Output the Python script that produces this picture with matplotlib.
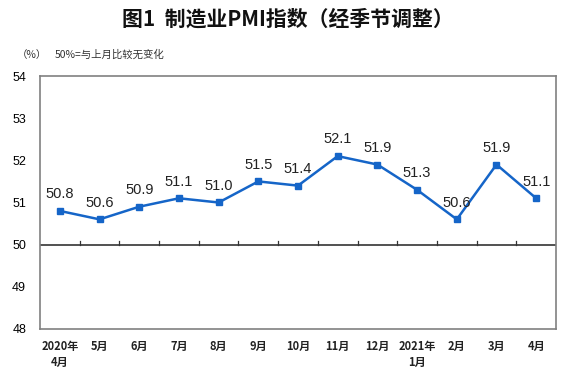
import matplotlib
matplotlib.use("Agg")
import matplotlib.pyplot as plt

plt.rcParams['font.family'] = ['Noto Sans CJK SC', 'DejaVu Sans']

months = ["2020年\n4月", "5月", "6月", "7月", "8月", "9月", "10月", "11月", "12月",
          "2021年\n1月", "2月", "3月", "4月"]
pmi = [50.8, 50.6, 50.9, 51.1, 51.0, 51.5, 51.4, 52.1, 51.9, 51.3, 50.6, 51.9, 51.1]
yticks = [48, 49, 50, 51, 52, 53, 54]

fig = plt.figure(figsize=(5.75, 3.91), dpi=100)
ax = fig.add_axes([0.0696, 0.1586, 0.8974, 0.647])

x = list(range(len(pmi)))
ax.plot(x, pmi, color='#1565C8', lw=1.8, marker='s', ms=4.5, zorder=3)
for xi, v in zip(x, pmi):
    ax.annotate(f"{v:.1f}", (xi, v), xytext=(0, 7), textcoords='offset points',
                ha='center', va='bottom', fontsize=10.5, color='#222222',
                family='Liberation Sans')

ax.set_xlim(-0.5, len(pmi) - 0.5)
ax.set_ylim(48, 54)
ax.set_yticks(yticks)
ax.set_yticklabels([str(t) for t in yticks], fontsize=9, family='Liberation Sans')
ax.tick_params(axis='y', length=0, pad=10)
ax.set_xticks(x)
ax.set_xticklabels(months, fontsize=8, fontweight='bold', color='#222222', linespacing=1.3)
ax.tick_params(axis='x', length=0, pad=8)

# baseline at 50 with upward ticks between categories
ax.axhline(50, color='#333333', lw=1.2, zorder=2)
for b in [i + 0.5 for i in range(len(pmi) - 1)]:
    ax.plot([b, b], [50, 50.09], color='#333333', lw=0.9, zorder=2)

for s in ax.spines.values():
    s.set_color('#808080')
    s.set_linewidth(1.2)

fig.text(0.5, 0.952, "图1  制造业PMI指数（经季节调整）", ha='center', va='center',
         fontsize=15, fontweight='bold', color='#111111')
fig.text(0.03, 0.86, "（%）", fontsize=7.5, color='#333333', va='center')
fig.text(0.095, 0.86, "50%=与上月比较无变化", fontsize=7.5, color='#333333', va='center')

fig.savefig("out.png", dpi=100, facecolor='white')
